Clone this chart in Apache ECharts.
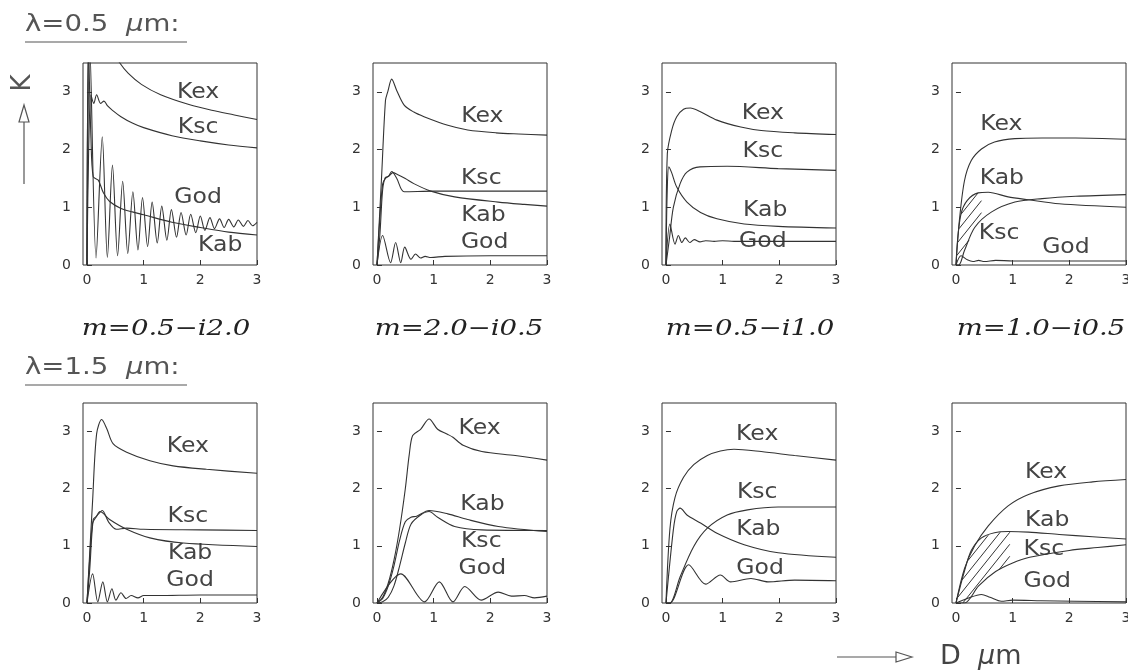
<!DOCTYPE html>
<html>
<head>
<meta charset="utf-8">
<script src="https://cdn.jsdelivr.net/npm/echarts@6/dist/echarts.min.js"></script>
<style>
html, body { margin: 0; padding: 0; background: #fff; }
#chart { width: 1128px; height: 670px; }
</style>
</head>
<body>
<div id="chart"></div>
<script>
// tick values and panel captions
var xTicks = [0, 1, 2, 3];
var yTicks = [0, 1, 2, 3];
var mLabels = ['m=0.5\u2212i2.0', 'm=2.0\u2212i0.5', 'm=0.5\u2212i1.0', 'm=1.0\u2212i0.5'];
var lambdaLabels = ['\u03bb=0.5', '\u03bb=1.5'];

// lambda = 0.5 um
var kex1 = [[0,0],[0.03,3.9],[0.1,4.3],[0.3,3.95],[0.58,3.5],[0.73,3.32],[0.96,3.13],[1.3,2.95],[1.8,2.78],[2.2,2.68],[2.6,2.6],[3,2.52]];
var ksc1 = [[0,0],[0.03,2.0],[0.07,2.95],[0.12,2.8],[0.17,2.95],[0.24,2.8],[0.3,2.84],[0.36,2.76],[0.45,2.68],[0.6,2.57],[0.8,2.46],[1,2.38],[1.5,2.24],[2,2.15],[2.5,2.08],[3,2.03]];
var kab1 = [[0,0],[0.025,3.8],[0.07,2.2],[0.11,1.53],[0.2,1.47],[0.29,1.25],[0.4,1.1],[0.6,0.98],[0.8,0.92],[1,0.87],[1.5,0.74],[2,0.65],[2.5,0.57],[3,0.52]];
var god1 = [[0,0],[0.05,3.8],[0.16,0.12],[0.27,2.22],[0.36,0.13],[0.45,1.73],[0.54,0.16],[0.63,1.45],[0.72,0.2],[0.81,1.27],[0.9,0.26],[0.98,1.17],[1.07,0.32],[1.15,1.09],[1.24,0.38],[1.32,1.02],[1.41,0.43],[1.49,0.96],[1.58,0.48],[1.66,0.91],[1.75,0.52],[1.83,0.88],[1.92,0.56],[2.0,0.85],[2.08,0.6],[2.17,0.82],[2.25,0.63],[2.34,0.8],[2.42,0.65],[2.5,0.79],[2.59,0.66],[2.67,0.78],[2.76,0.67],[2.84,0.77],[2.92,0.68],[3.0,0.74]];

var kex2 = [[0,0],[0.08,1.5],[0.15,2.85],[0.19,3.0],[0.26,3.22],[0.35,3.02],[0.48,2.77],[0.65,2.65],[0.83,2.57],[1.25,2.42],[1.6,2.34],[2.1,2.29],[2.5,2.27],[3,2.25]];
var ksc2 = [[0,0],[0.05,0.5],[0.1,1.3],[0.15,1.52],[0.2,1.53],[0.26,1.62],[0.35,1.5],[0.48,1.27],[1,1.28],[2,1.28],[3,1.28]];
var kab2 = [[0,0],[0.05,0.8],[0.1,1.4],[0.15,1.5],[0.22,1.55],[0.28,1.6],[0.36,1.57],[0.5,1.5],[0.65,1.41],[0.95,1.28],[1.37,1.18],[2.14,1.09],[2.6,1.05],[3,1.02]];
var god2 = [[0,0],[0.1,0.51],[0.24,0.04],[0.33,0.39],[0.42,0.04],[0.49,0.31],[0.6,0.1],[0.68,0.19],[0.77,0.12],[0.85,0.15],[0.95,0.13],[1.2,0.15],[2,0.16],[3,0.16]];

var kex3 = [[0,0],[0.024,1.93],[0.1,2.33],[0.19,2.57],[0.31,2.7],[0.43,2.72],[0.6,2.66],[0.9,2.51],[1.32,2.39],[1.68,2.33],[2.27,2.29],[3,2.26]];
var ksc3 = [[0,0],[0.06,0.45],[0.13,1.0],[0.25,1.41],[0.37,1.61],[0.6,1.7],[1.08,1.71],[1.98,1.67],[3,1.64]];
var kab3 = [[0,0],[0.02,1.2],[0.05,1.7],[0.1,1.6],[0.19,1.35],[0.37,1.09],[0.61,0.91],[0.9,0.8],[1.38,0.71],[1.98,0.67],[3,0.64]];
var god3 = [[0,0],[0.07,0.71],[0.16,0.36],[0.22,0.51],[0.28,0.39],[0.34,0.47],[0.42,0.39],[0.5,0.44],[0.6,0.4],[0.7,0.42],[0.85,0.41],[1.0,0.42],[1.2,0.41],[2,0.41],[3,0.41]];

var kex4 = [[0,0],[0.06,0.77],[0.15,1.46],[0.27,1.81],[0.45,2.01],[0.68,2.13],[1.04,2.19],[1.52,2.2],[2.11,2.2],[3,2.18]];
var kab4 = [[0,0],[0.03,0.45],[0.09,0.89],[0.2,1.12],[0.39,1.25],[0.57,1.26],[0.92,1.18],[1.28,1.13],[1.82,1.06],[3,1.0]];
var ksc4 = [[0,0],[0.05,0],[0.15,0.25],[0.33,0.65],[0.63,0.92],[1.04,1.09],[1.52,1.15],[2.11,1.19],[3,1.22]];
var god4 = [[0,0],[0.09,0.16],[0.2,0.09],[0.3,0.06],[0.4,0.08],[0.5,0.06],[0.7,0.08],[1,0.07],[2,0.07],[3,0.07]];

// lambda = 1.5 um
var kex5 = [[0,0],[0.1,1.8],[0.17,2.96],[0.26,3.21],[0.35,3.05],[0.46,2.79],[0.7,2.64],[1.11,2.49],[1.52,2.4],[2.11,2.34],[3,2.27]];
var ksc5 = [[0,0],[0.05,0.6],[0.11,1.46],[0.17,1.52],[0.27,1.62],[0.38,1.42],[0.52,1.29],[0.7,1.31],[1,1.29],[2,1.28],[3,1.27]];
var kab5 = [[0,0],[0.05,0.8],[0.1,1.4],[0.16,1.5],[0.23,1.6],[0.4,1.46],[0.7,1.29],[1.11,1.14],[1.7,1.05],[3,0.99]];
var god5 = [[0,0],[0.1,0.51],[0.19,0.02],[0.28,0.37],[0.36,0.02],[0.44,0.25],[0.51,0.05],[0.6,0.18],[0.69,0.08],[0.78,0.13],[0.9,0.09],[1.0,0.13],[1.25,0.13],[2,0.14],[3,0.14]];

var kex6 = [[0,0],[0.1,0.1],[0.2,0.35],[0.3,0.75],[0.4,1.3],[0.5,2.0],[0.57,2.6],[0.63,2.93],[0.77,3.04],[0.92,3.22],[1.07,3.04],[1.25,2.95],[1.34,2.9],[1.52,2.76],[1.85,2.65],[2.44,2.58],[3,2.5]];
var kab6 = [[0,0],[0.1,0.08],[0.2,0.3],[0.3,0.65],[0.4,1.1],[0.5,1.42],[0.6,1.5],[0.7,1.52],[0.92,1.62],[1.25,1.56],[1.6,1.46],[2.14,1.34],[3,1.25]];
var ksc6 = [[0,0],[0.1,0.02],[0.2,0.1],[0.3,0.3],[0.4,0.65],[0.5,1.05],[0.6,1.38],[0.77,1.54],[0.92,1.6],[1.07,1.5],[1.37,1.34],[1.85,1.28],[3,1.27]];
var god6 = [[0,0],[0.42,0.51],[0.84,0.02],[1.1,0.37],[1.34,0.02],[1.55,0.29],[1.84,0.05],[2.14,0.19],[2.37,0.12],[2.6,0.13],[2.78,0.09],[3,0.12]];

var kex7 = [[0,0],[0.07,1.3],[0.16,1.85],[0.31,2.2],[0.49,2.42],[0.73,2.58],[0.96,2.66],[1.2,2.69],[1.68,2.65],[2.27,2.58],[3,2.5]];
var kab7 = [[0,0],[0.13,1.28],[0.19,1.6],[0.25,1.66],[0.37,1.54],[0.61,1.4],[0.9,1.22],[1.38,1.02],[1.98,0.88],[3,0.8]];
var ksc7 = [[0,0],[0.07,0],[0.25,0.46],[0.49,0.99],[0.73,1.31],[1.08,1.54],[1.44,1.63],[1.98,1.68],[3,1.68]];
var god7 = [[0,0],[0.07,0],[0.4,0.67],[0.7,0.33],[0.96,0.49],[1.14,0.37],[1.5,0.43],[1.8,0.37],[2.27,0.4],[3,0.39]];

var kex8 = [[0,0],[0.15,0.6],[0.33,1.0],[0.57,1.35],[0.92,1.7],[1.28,1.9],[1.82,2.05],[2.41,2.12],[3,2.16]];
var kab8 = [[0,0],[0.15,0.56],[0.27,0.92],[0.45,1.14],[0.68,1.23],[0.92,1.25],[1.28,1.24],[1.82,1.2],[2.41,1.16],[3,1.12]];
var ksc8 = [[0,0],[0.15,0],[0.4,0.3],[0.7,0.55],[1.0,0.7],[1.3,0.8],[2.0,0.92],[2.5,0.97],[3,1.02]];
var god8 = [[0,0],[0.2,0.08],[0.45,0.15],[0.6,0.1],[0.8,0.03],[1,0.05],[1.5,0.04],[2.1,0.03],[3,0.02]];

var panels = [
	{Kex: kex1, Ksc: ksc1, Kab: kab1, God: god1},
	{Kex: kex2, Ksc: ksc2, Kab: kab2, God: god2},
	{Kex: kex3, Ksc: ksc3, Kab: kab3, God: god3},
	{Kex: kex4, Ksc: ksc4, Kab: kab4, God: god4},
	{Kex: kex5, Ksc: ksc5, Kab: kab5, God: god5},
	{Kex: kex6, Ksc: ksc6, Kab: kab6, God: god6},
	{Kex: kex7, Ksc: ksc7, Kab: kab7, God: god7},
	{Kex: kex8, Ksc: ksc8, Kab: kab8, God: god8}
];

// where the curve names sit, in axis units
var labelPos = [
	{Kex: [1.96, 2.99], Ksc: [1.96, 2.38], God: [1.96, 1.17], Kab: [2.35, 0.33]},
	{Kex: [1.86, 2.58], Ksc: [1.84, 1.5], Kab: [1.88, 0.86], God: [1.9, 0.39]},
	{Kex: [1.71, 2.63], Ksc: [1.71, 1.97], Kab: [1.75, 0.95], God: [1.71, 0.41]},
	{Kex: [0.8, 2.43], Kab: [0.81, 1.5], Ksc: [0.76, 0.55], God: [1.94, 0.3]},
	{Kex: [1.78, 2.73], Ksc: [1.78, 1.51], Kab: [1.82, 0.86], God: [1.82, 0.39]},
	{Kex: [1.81, 3.05], Kab: [1.86, 1.73], Ksc: [1.84, 1.07], God: [1.86, 0.6]},
	{Kex: [1.61, 2.94], Ksc: [1.61, 1.93], Kab: [1.63, 1.28], God: [1.66, 0.61]},
	{Kex: [1.59, 2.28], Kab: [1.61, 1.45], Ksc: [1.55, 0.93], God: [1.61, 0.37]}
];

var hatch = {3: {upper: kab4, lower: ksc4, to: 0.45}, 7: {upper: kab8, lower: ksc8, to: 0.95}};

var colLeft = [83, 373, 662, 952];
var rowTop = [63, 403];
var rowHeight = [202, 200];
var plotWidth = 174;
var ink = '#333';

var grid = [], xAxis = [], yAxis = [], series = [];
panels.forEach(function (p, i) {
	var r = Math.floor(i / 4), c = i % 4;
	grid.push({
		left: colLeft[c], top: rowTop[r], width: plotWidth, height: rowHeight[r],
		show: true, borderColor: ink, borderWidth: 1, containLabel: false, outerBoundsMode: 'none'
	});
	xAxis.push({
		type: 'value', gridIndex: i, min: -0.07, max: 3,
		axisLine: { show: false },
		splitLine: { show: false },
		axisTick: { inside: true, length: 5, customValues: xTicks, lineStyle: { color: ink } },
		axisLabel: { customValues: xTicks, fontSize: 14, fontFamily: 'DejaVu Sans', color: ink, margin: 8 }
	});
	yAxis.push({
		type: 'value', gridIndex: i, min: 0, max: 3.5,
		axisLine: { show: false },
		splitLine: { show: false },
		axisTick: { inside: true, length: 5, customValues: yTicks, lineStyle: { color: ink } },
		axisLabel: { customValues: yTicks, fontSize: 14, fontFamily: 'DejaVu Sans', color: ink, margin: 12 }
	});
	Object.keys(p).forEach(function (name) {
		series.push({
			type: 'line', name: name, xAxisIndex: i, yAxisIndex: i,
			data: p[name], showSymbol: false, smooth: 0.3,
			lineStyle: { color: ink, width: 1.1 }, silent: true
		});
	});
});

var chart = echarts.init(document.getElementById('chart'));
chart.setOption({ animation: false, grid: grid, xAxis: xAxis, yAxis: yAxis, series: series });

function valueAt(arr, x) {
	for (var k = 0; k < arr.length - 1; k++) {
		if (arr[k][0] <= x && arr[k + 1][0] >= x) {
			var t = (x - arr[k][0]) / (arr[k + 1][0] - arr[k][0]);
			return arr[k][1] + t * (arr[k + 1][1] - arr[k][1]);
		}
	}
	return arr[arr.length - 1][1];
}

// diagonal hatch lines clipped to the band between two curves
function hatchLines(i, h) {
	var poly = [];
	h.upper.forEach(function (d) { if (d[0] < h.to) poly.push(d); });
	poly.push([h.to, valueAt(h.upper, h.to)]);
	poly.push([h.to, valueAt(h.lower, h.to)]);
	h.lower.slice().reverse().forEach(function (d) { if (d[0] < h.to) poly.push(d); });
	var px = poly.map(function (d) { return chart.convertToPixel({ gridIndex: i }, d); });
	var s = 1.25, step = 12;
	var cs = px.map(function (q) { return q[1] + s * q[0]; });
	var cMin = Math.min.apply(null, cs), cMax = Math.max.apply(null, cs);
	var out = [];
	for (var c = cMin + step / 2; c < cMax; c += step) {
		var xs = [];
		for (var k = 0; k < px.length; k++) {
			var a = px[k], b = px[(k + 1) % px.length];
			var fa = a[1] + s * a[0] - c, fb = b[1] + s * b[0] - c;
			if ((fa <= 0 && fb > 0) || (fa > 0 && fb <= 0)) {
				var t = fa / (fa - fb);
				xs.push(a[0] + t * (b[0] - a[0]));
			}
		}
		xs.sort(function (u, v) { return u - v; });
		for (var m = 0; m + 1 < xs.length; m += 2) {
			out.push({
				type: 'line', silent: true,
				shape: { x1: xs[m], y1: c - s * xs[m], x2: xs[m + 1], y2: c - s * xs[m + 1] },
				style: { stroke: ink, lineWidth: 1 }
			});
		}
	}
	return out;
}

var graphics = [];
var labelFont = '21px DejaVu Sans';
labelPos.forEach(function (lp, i) {
	Object.keys(lp).forEach(function (name) {
		var pt = chart.convertToPixel({ gridIndex: i }, lp[name]);
		graphics.push({
			type: 'text', x: pt[0], y: pt[1], scaleX: 1.12, silent: true,
			style: { text: name, font: labelFont, fill: '#444', align: 'center', verticalAlign: 'middle' }
		});
	});
});
Object.keys(hatch).forEach(function (i) {
	graphics = graphics.concat(hatchLines(+i, hatch[i]));
});

// m = ... captions under the upper row
var mCenters = [166, 459, 750, 1041];
mLabels.forEach(function (t, c) {
	graphics.push({
		type: 'text', x: mCenters[c], y: 329, scaleX: 1.25, silent: true,
		style: { text: t, font: 'italic 22px DejaVu Serif', fill: '#222', align: 'center', verticalAlign: 'middle' }
	});
});

// wavelength headings with underline
var lambdaY = [25, 368];
lambdaLabels.forEach(function (t, r) {
	graphics.push({
		type: 'text', x: 25, y: lambdaY[r], scaleX: 1.2, silent: true,
		style: {
			text: '{a|' + t + '  }{b|\u03bc}{a|m:}', align: 'left', verticalAlign: 'middle',
			rich: {
				a: { font: '23px DejaVu Sans', fill: '#555' },
				b: { font: 'italic 23px DejaVu Sans', fill: '#555' }
			}
		}
	});
	graphics.push({
		type: 'line', silent: true,
		shape: { x1: 25, y1: lambdaY[r] + 17, x2: 187, y2: lambdaY[r] + 17 },
		style: { stroke: '#555', lineWidth: 1.2 }
	});
});

// K with upward arrow
graphics.push({
	type: 'text', x: 23, y: 83, rotation: Math.PI / 2, silent: true,
	style: { text: 'K', font: '26px DejaVu Sans', fill: '#555', align: 'center', verticalAlign: 'middle' }
});
graphics.push({ type: 'polygon', silent: true, shape: { points: [[24, 105], [19, 122], [29, 122]] }, style: { fill: 'none', stroke: '#555', lineWidth: 1.2 } });
graphics.push({ type: 'line', silent: true, shape: { x1: 24, y1: 122, x2: 24, y2: 184 }, style: { stroke: '#555', lineWidth: 1.2 } });

// D um with right arrow
graphics.push({ type: 'line', silent: true, shape: { x1: 837, y1: 657, x2: 896, y2: 657 }, style: { stroke: '#555', lineWidth: 1.2 } });
graphics.push({ type: 'polygon', silent: true, shape: { points: [[912, 657], [896, 652], [896, 662]] }, style: { fill: 'none', stroke: '#555', lineWidth: 1.2 } });
graphics.push({
	type: 'text', x: 940, y: 657, silent: true,
	style: {
		text: '{a|D  }{b|\u03bc}{a|m}', align: 'left', verticalAlign: 'middle',
		rich: {
			a: { font: '27px DejaVu Sans', fill: '#444' },
			b: { font: 'italic 27px DejaVu Sans', fill: '#444' }
		}
	}
});

chart.setOption({ graphic: graphics });
</script>
</body>
</html>
